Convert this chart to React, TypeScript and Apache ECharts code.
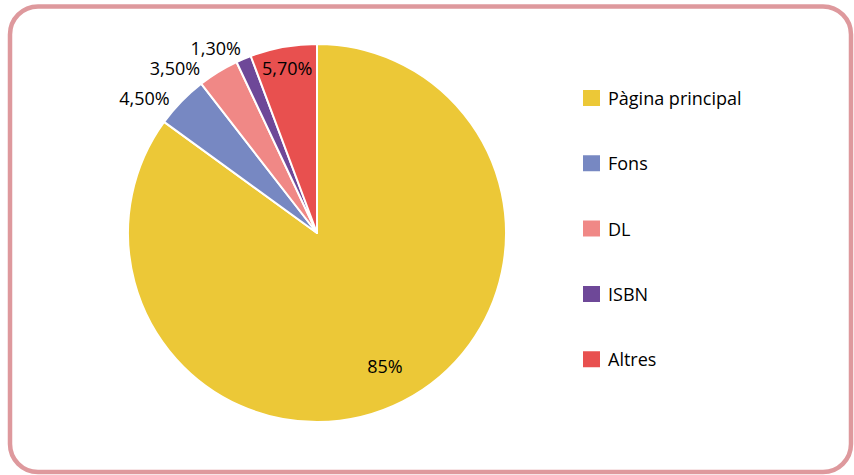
import React, { useEffect, useRef } from "react";
import * as echarts from "echarts";

const categories = ["Pàgina principal", "Fons", "DL", "ISBN", "Altres"];
const values = [85, 4.5, 3.5, 1.3, 5.7];
const colors = ["#ECC837", "#7788C2", "#F08886", "#6E4898", "#E8504F"];

const FONT = "'Open Sans', 'Noto Sans', sans-serif";

function fmt(v: number): string {
  return Number.isInteger(v) ? `${v}%` : `${v.toFixed(2).replace(".", ",")}%`;
}

// outside label tuning (labelLine length, length2, distance) per category
const outsideTuning: Record<string, [number, number, number]> = {
  Fons: [5, 3, 5],
  DL: [4, 11, 5],
  ISBN: [12, -7, 5],
};

export default function App() {
  const ref = useRef<HTMLDivElement>(null);
  useEffect(() => {
    if (!ref.current) return;
    const chart = echarts.init(ref.current, null, { renderer: "svg" });
    const center = [317, 233];
    const mainData = categories.map((name, i) => {
      const t = outsideTuning[name];
      return {
        name,
        value: values[i],
        itemStyle: { color: colors[i] },
        label: t
          ? { show: true, position: "outside", distanceToLabelLine: t[2] }
          : { show: false },
        labelLine: t ? { show: false, length: t[0], length2: t[1] } : { show: false },
      };
    });
    const auxData = (showName: string) =>
      categories.map((name, i) => ({
        name,
        value: values[i],
        label: { show: name === showName },
      }));
    const auxSeries = (showName: string, r0: number) => ({
      type: "pie",
      silent: true,
      center,
      radius: [r0, 189],
      startAngle: 90,
      clockwise: true,
      avoidLabelOverlap: false,
      itemStyle: { color: "rgba(0,0,0,0)", borderWidth: 0 },
      emphasis: { disabled: true },
      label: {
        position: "inside",
        formatter: (p: any) => fmt(p.value),
        fontFamily: FONT,
        fontSize: 18,
        color: "#000",
      },
      labelLine: { show: false },
      data: auxData(showName),
      z: 3,
    });

    chart.setOption({
      animation: false,
      backgroundColor: "#fff",
      graphic: [
        {
          type: "rect",
          silent: true,
          z: -1,
          shape: { x: 10, y: 6.5, width: 841, height: 465.5, r: 28 },
          style: { fill: "none", stroke: "#DE999D", lineWidth: 4.5 },
        },
      ],
      legend: {
        orient: "vertical",
        left: 581,
        top: 88,
        padding: 0,
        icon: "rect",
        itemWidth: 19,
        itemHeight: 18,
        itemGap: 45.3,
        selectedMode: false,
        data: categories,
        textStyle: {
          fontFamily: FONT,
          fontSize: 18,
          color: "#000",
          padding: [0, 0, 0, 2],
        },
      },
      series: [
        {
          type: "pie",
          center,
          radius: 189,
          startAngle: 90,
          clockwise: true,
          avoidLabelOverlap: false,
          itemStyle: { borderColor: "#fff", borderWidth: 2 },
          emphasis: { disabled: true },
          label: {
            formatter: (p: any) => fmt(p.value),
            fontFamily: FONT,
            fontSize: 18,
            color: "#000",
          },
          data: mainData,
          z: 2,
        },
        auxSeries("Pàgina principal", 104),
        auxSeries("Altres", 140),
      ],
    });
    return () => chart.dispose();
  }, []);
  return (
    <div
      ref={ref}
      style={{ position: "fixed", left: 0, top: 0, width: 854, height: 475 }}
    />
  );
}
